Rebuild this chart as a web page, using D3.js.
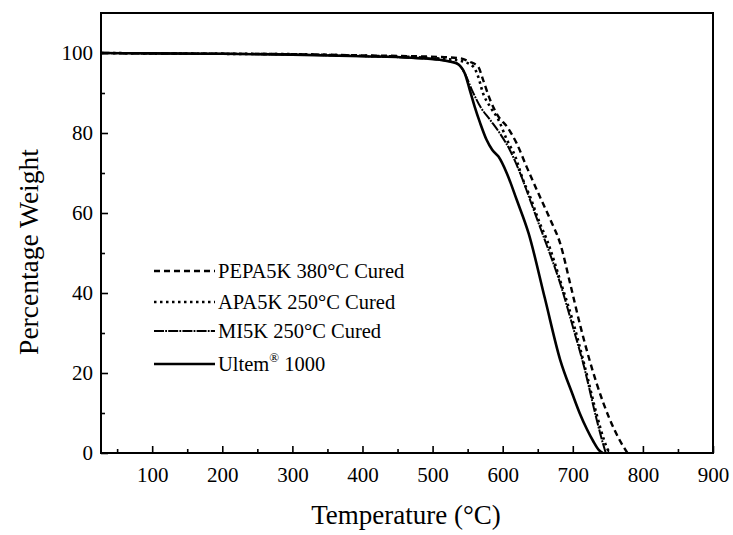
<!DOCTYPE html>
<html>
<head>
<meta charset="utf-8">
<script src="https://cdn.jsdelivr.net/npm/d3@7"></script>
<style>
  html, body { margin: 0; padding: 0; background: #fff; }
  svg { display: block; }
  text { font-family: 'Liberation Serif', 'Times New Roman', serif; fill: #000; }
</style>
</head>
<body>
<div id="chart"></div>
<script>
// TGA curves, percentage weight vs temperature
const pepaT = [27, 100, 200, 300, 400, 470, 510, 539, 553, 565, 572, 582, 594, 606, 620, 634, 653, 668, 682, 697, 711, 734, 753, 766, 778]
const pepaW = [100, 99.9, 99.8, 99.7, 99.4, 99.2, 99, 98.7, 97.8, 96.6, 93.3, 88.3, 84.1, 81.6, 77.4, 71.6, 64.1, 58.3, 52.4, 41.8, 31.6, 17.4, 8.3, 3.5, 0]

const apaT = [27, 100, 200, 300, 400, 470, 510, 540, 558, 565, 572, 582, 594, 606, 618, 629, 639, 653, 663, 684, 700, 718, 735, 745, 752]
const apaW = [100, 99.9, 99.8, 99.7, 99.3, 99, 98.6, 98, 96.6, 94.1, 89.9, 86.6, 83.3, 78.3, 74.1, 68.3, 64.1, 57.4, 53.3, 42, 33, 21, 9, 3, 0]

const mi5kT = [27, 100, 200, 300, 400, 470, 510, 534, 546, 556, 568, 582, 596, 610, 625, 639, 653, 660, 682, 700, 716, 733, 742, 747]
const mi5kW = [100, 99.9, 99.8, 99.6, 99.2, 98.8, 98.3, 97.5, 94.9, 90.8, 86.6, 83.3, 79.9, 75.8, 69.9, 63.3, 56.6, 53.3, 42.4, 31.6, 21.6, 9.1, 3, 0]

const ultemT = [27, 100, 200, 300, 400, 470, 510, 534, 546, 553, 560, 568, 577, 585, 594, 606, 620, 637, 660, 682, 700, 710, 720, 729, 737, 743]
const ultemW = [100, 99.9, 99.8, 99.6, 99.2, 98.8, 98.3, 97.4, 94.9, 90.8, 86.6, 82.4, 78.3, 75.8, 74.1, 69.9, 63.3, 54.9, 38.8, 23.3, 14.5, 9.9, 6, 3, 0.8, 0]

const legendNames = ['PEPA5K 380°C Cured', 'APA5K 250°C Cured', 'MI5K 250°C Cured', 'Ultem']
const xMajorTicks = [100, 200, 300, 400, 500, 600, 700, 800, 900]
const xMinorTicks = [50, 150, 250, 350, 450, 550, 650, 750, 850]
const yMajorTicks = [0, 20, 40, 60, 80, 100]
const yMinorTicks = [10, 30, 50, 70, 90]

const width = 733
const height = 535
const plot = { left: 101, right: 713, top: 13, bottom: 453 }

const svg = d3.select('#chart').append('svg')
  .attr('width', width)
  .attr('height', height)

svg.append('rect').attr('width', width).attr('height', height).attr('fill', '#fff')

const x = d3.scaleLinear().domain([27, 900]).range([plot.left, plot.right])
const y = d3.scaleLinear().domain([0, 110]).range([plot.bottom, plot.top])

svg.append('clipPath').attr('id', 'plot-clip')
  .append('rect')
  .attr('x', plot.left).attr('y', plot.top)
  .attr('width', plot.right - plot.left).attr('height', plot.bottom - plot.top)

const series = [
  { name: legendNames[0], t: pepaT, w: pepaW, dash: '6,4', sw: 2.4 },
  { name: legendNames[1], t: apaT, w: apaW, dash: '2.5,3.5', sw: 2.6 },
  { name: legendNames[2], t: mi5kT, w: mi5kW, dash: '10,1.2,1.8,1.2', sw: 2 },
  { name: legendNames[3], t: ultemT, w: ultemW, dash: null, sw: 2.6 }
]

const line = d3.line()
  .x(d => x(d[0]))
  .y(d => y(d[1]))
  .curve(d3.curveMonotoneX)

svg.append('g')
  .attr('clip-path', 'url(#plot-clip)')
  .selectAll('path')
  .data(series)
  .join('path')
  .attr('d', s => line(s.t.map((t, i) => [t, s.w[i]])))
  .attr('fill', 'none')
  .attr('stroke', '#000')
  .attr('stroke-width', s => s.sw)
  .attr('stroke-dasharray', s => s.dash)

// axes, ticks pointing inward
svg.append('g')
  .attr('transform', `translate(0,${plot.bottom})`)
  .call(d3.axisBottom(x).tickValues(xMajorTicks).tickSize(-7).tickPadding(14).tickFormat(d3.format('d')))
svg.append('g')
  .attr('transform', `translate(0,${plot.bottom})`)
  .call(d3.axisBottom(x).tickValues(xMinorTicks).tickSize(-4).tickFormat(''))

svg.append('g')
  .attr('transform', `translate(${plot.left},0)`)
  .call(d3.axisLeft(y).tickValues(yMajorTicks).tickSize(-7).tickPadding(8).tickFormat(d3.format('d')))
svg.append('g')
  .attr('transform', `translate(${plot.left},0)`)
  .call(d3.axisLeft(y).tickValues(yMinorTicks).tickSize(-4).tickFormat(''))

svg.selectAll('.domain').remove()
svg.selectAll('.tick line').attr('stroke', '#000').attr('stroke-width', 1.6)
svg.selectAll('.tick text')
  .style('font-family', "'Liberation Serif', serif")
  .style('font-size', '21px')
  .attr('fill', '#000')

svg.append('rect')
  .attr('x', plot.left).attr('y', plot.top)
  .attr('width', plot.right - plot.left).attr('height', plot.bottom - plot.top)
  .attr('fill', 'none')
  .attr('stroke', '#000')
  .attr('stroke-width', 2)

// axis titles
svg.append('text')
  .attr('x', (plot.left + plot.right) / 2 - 1)
  .attr('y', 524)
  .attr('text-anchor', 'middle')
  .style('font-size', '27px')
  .text('Temperature (°C)')

svg.append('text')
  .attr('transform', `translate(38,${(plot.top + plot.bottom) / 2 + 19}) rotate(-90)`)
  .attr('text-anchor', 'middle')
  .style('font-size', '27.5px')
  .text('Percentage Weight')

// legend
const legendY = [271, 302, 331, 364]
const lg = svg.append('g')
series.forEach((s, i) => {
  lg.append('line')
    .attr('x1', 154).attr('x2', 215)
    .attr('y1', legendY[i]).attr('y2', legendY[i])
    .attr('stroke', '#000')
    .attr('stroke-width', s.sw)
    .attr('stroke-dasharray', s.dash)
  const t = lg.append('text')
    .attr('x', 218)
    .attr('y', legendY[i] + 6.5)
    .style('font-size', '20.5px')
  if (i === 3) {
    t.append('tspan').text('Ultem')
    t.append('tspan').attr('dy', -9).style('font-size', '13px').text('®')
    t.append('tspan').attr('dy', 9).text(' 1000')
  } else {
    t.text(s.name)
  }
})
</script>
</body>
</html>
